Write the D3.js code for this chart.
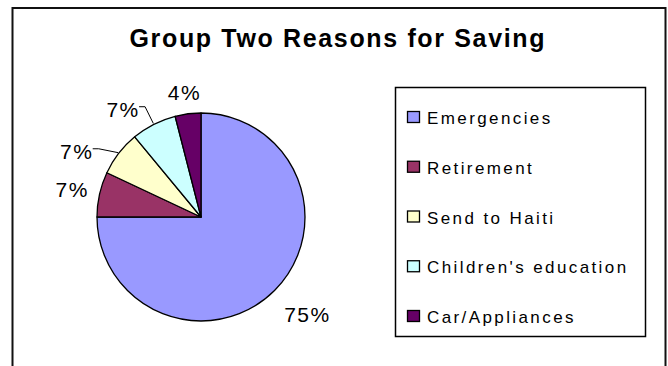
<!DOCTYPE html>
<html>
<head>
<meta charset="utf-8">
<script src="https://cdn.jsdelivr.net/npm/d3@7"></script>
<style>
  body { margin: 0; background: #fff; }
  text { font-family: "Liberation Sans", Arial, sans-serif; fill: #000; }
</style>
</head>
<body>
<script>
// chart data
let categories = ['Emergencies', 'Retirement', 'Send to Haiti', "Children's education", 'Car/Appliances']
let values = [75, 7, 7, 7, 4]
let colors = ['#9999ff', '#993366', '#ffffcc', '#ccffff', '#660066']
let title = 'Group Two Reasons for Saving'

// labels that Excel pushed aside, drawn with a leader line
let labelShift = {'Send to Haiti': [-20, 12], "Children's education": [-18, 5]}

let width = 668, height = 366
let cx = 201, cy = 217, radius = 104

let svg = d3.select('body').append('svg')
  .attr('width', width)
  .attr('height', height)

// outer chart border (bottom runs off the picture)
svg.append('rect')
  .attr('x', 12.5).attr('y', 8)
  .attr('width', 653).attr('height', 400)
  .attr('fill', 'none')
  .attr('stroke', '#111')
  .attr('stroke-width', 2)

svg.append('text')
  .attr('x', 337).attr('y', 47)
  .attr('text-anchor', 'middle')
  .attr('font-size', 25)
  .attr('font-weight', 'bold')
  .attr('textLength', 415)
  .attr('lengthAdjust', 'spacing')
  .text(title)

let total = d3.sum(values)
let pieData = d3.pie().sort(null).value(d => d)(values)
let arc = d3.arc().innerRadius(0).outerRadius(radius)

let pieG = svg.append('g').attr('transform', `translate(${cx},${cy})`)

pieG.selectAll('path')
  .data(pieData)
  .enter()
  .append('path')
  .attr('d', arc)
  .attr('fill', (d, i) => colors[i])
  .attr('stroke', '#000')
  .attr('stroke-width', 1.3)
  .attr('stroke-linejoin', 'round')

// percentage labels
pieData.forEach((d, i) => {
  let mid = (d.startAngle + d.endAngle) / 2
  let dx = Math.sin(mid), dy = -Math.cos(mid)
  let txt = Math.round(d.value / total * 100) + '%'
  let w = txt.length * 13 + 2, h = 16
  let lr = d.value > 50 ? 130 : 118
  let x = dx * lr + dx * w / 2
  let y = dy * lr + dy * h / 2
  let shift = labelShift[categories[i]]
  if (shift) {
    x += shift[0]
    y += shift[1]
    let ex = dx * (radius + 1), ey = dy * (radius + 1)
    let sx = x + w / 2 + 2, sy = y - 3
    pieG.append('path')
      .attr('d', d3.line()([[sx, sy], [sx + 6, sy], [ex, ey]]))
      .attr('fill', 'none')
      .attr('stroke', '#000')
      .attr('stroke-width', 1)
  }
  pieG.append('text')
    .attr('x', x).attr('y', y)
    .attr('text-anchor', 'middle')
    .attr('dominant-baseline', 'central')
    .attr('font-size', 21)
    .attr('letter-spacing', 1.5)
    .text(txt)
})

// legend
let legendBox = {x: 395, y: 87, w: 250, h: 249}
svg.append('rect')
  .attr('x', legendBox.x + 0.5).attr('y', legendBox.y + 0.5)
  .attr('width', legendBox.w).attr('height', legendBox.h)
  .attr('fill', '#fff')
  .attr('stroke', '#000')
  .attr('stroke-width', 1.5)

let ly = d3.scalePoint()
  .domain(categories)
  .range([118, 317])

let item = svg.selectAll('.legendItem')
  .data(categories)
  .enter()
  .append('g')
  .attr('class', 'legendItem')
  .attr('transform', d => `translate(${legendBox.x + 12},${ly(d)})`)

item.append('rect')
  .attr('x', 0.5).attr('y', -6.5)
  .attr('width', 12).attr('height', 11)
  .attr('fill', (d, i) => colors[i])
  .attr('stroke', '#000')
  .attr('stroke-width', 1.3)

item.append('text')
  .attr('x', 20)
  .attr('y', 0.5)
  .attr('dominant-baseline', 'central')
  .attr('font-size', 17)
  .attr('letter-spacing', 2.4)
  .text(d => d)
</script>
</body>
</html>
